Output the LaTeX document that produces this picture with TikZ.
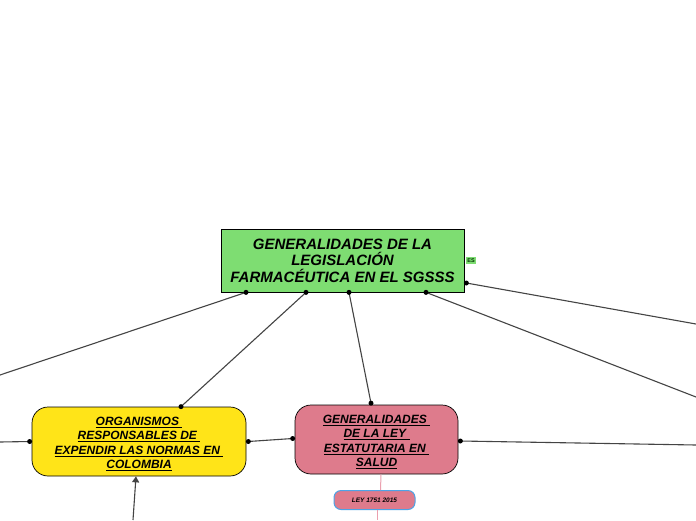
\documentclass[tikz,border=0pt]{standalone}
\usepackage{fontspec}
\setmainfont{Liberation Sans}
\usetikzlibrary{arrows.meta}
\definecolor{mgreen}{RGB}{126,221,114}
\definecolor{myellow}{RGB}{255,228,24}
\definecolor{mpink}{RGB}{222,123,140}
\definecolor{mblue}{RGB}{77,163,230}
\definecolor{mline}{RGB}{68,68,68}
\definecolor{lpink}{RGB}{235,160,175}
\tikzset{
  mainbox/.style={draw=black, fill=mgreen, line width=0.7pt, align=center, inner sep=0pt,
    font=\fontsize{15}{16.5}\selectfont\bfseries\itshape},
  topic/.style={draw=black, line width=0.7pt, rounded corners=16pt, align=center, inner sep=0pt,
    font=\fontsize{12}{14.5}\selectfont\bfseries\itshape},
  subbox/.style={draw=mblue, fill=mpink, line width=1pt, rounded corners=7pt, align=center, inner sep=0pt,
    font=\fontsize{6.5}{7}\selectfont\bfseries\itshape},
  tag/.style={fill=mgreen, inner sep=1.5pt, text=black!80!green, font=\fontsize{5.5}{6}\selectfont\bfseries},
  conn/.style={draw=mline, line width=1.1pt},
  dot/.style={circle, fill=black, inner sep=0pt, minimum size=5pt},
}
\newcommand{\topstrut}{\rule{0pt}{13pt}}
\begin{document}
\begin{tikzpicture}[x=1pt,y=-1pt]
\useasboundingbox[fill=white] (0,0) rectangle (696,520);

\node[mainbox, minimum width=243pt, minimum height=63pt] (main) at (342.5,260.5)
  {GENERALIDADES DE LA\\LEGISLACIÓN\\FARMACÉUTICA EN EL SGSSS};
\node[tag] (es) at (471,260.5) {ES};

\node[topic, fill=myellow, minimum width=214pt, minimum height=69pt] (org) at (139,441.5)
  {\topstrut\underline{ORGANISMOS }\\\underline{RESPONSABLES DE }\\\underline{EXPENDIR LAS NORMAS EN }\\\underline{COLOMBIA}};
\node[topic, fill=mpink, minimum width=163pt, minimum height=69pt] (gen) at (376.5,439.5)
  {\topstrut\underline{GENERALIDADES }\\\underline{DE LA LEY }\\\underline{ESTATUTARIA EN }\\\underline{SALUD}};
\node[subbox, minimum width=81pt, minimum height=19pt] (ley) at (374.5,500) {LEY 1751 2015};

\coordinate (fl1) at (0,375);
\coordinate (fr1) at (696,397);
\coordinate (fr2) at (696,324);
\coordinate (fr3) at (696,445);
\coordinate (fl2) at (0,442);
\coordinate (fb1) at (133,520);
\coordinate (fb2) at (377,520);

\draw[conn] ([xshift=-96.5pt]main.south) -- (fl1) node[dot,pos=0]{};
\draw[conn] ([xshift=-36.5pt]main.south) -- ([xshift=42pt]org.north) node[dot,pos=0]{} node[dot,pos=1]{};
\draw[conn] ([xshift=6.5pt]main.south) -- ([xshift=-5.5pt,yshift=1.5pt]gen.north) node[dot,pos=0]{} node[dot,pos=1]{};
\draw[conn] ([xshift=83.5pt]main.south) -- (fr1) node[dot,pos=0]{};
\draw[conn] ([xshift=2pt,yshift=-22.5pt]main.east) -- (fr2) node[dot,pos=0]{};
\draw[conn] ([xshift=2pt,yshift=-1.5pt]gen.east) -- (fr3) node[dot,pos=0]{};
\draw[conn] ([xshift=-2pt]org.west) -- (fl2) node[dot,pos=0]{};
\draw[conn] ([xshift=2pt]org.east) -- ([xshift=-2pt,yshift=1pt]gen.west) node[dot,pos=0]{} node[dot,pos=1]{};
\draw[conn, -{Triangle[length=6pt,width=7pt]}] (fb1) -- ([xshift=-3pt]org.south);
\draw[draw=lpink, line width=1pt] ([xshift=4.5pt]gen.south) -- ([xshift=6pt]ley.north);
\draw[draw=lpink, line width=1pt] ([xshift=2.5pt]ley.south) -- (fb2);
\end{tikzpicture}
\end{document}
